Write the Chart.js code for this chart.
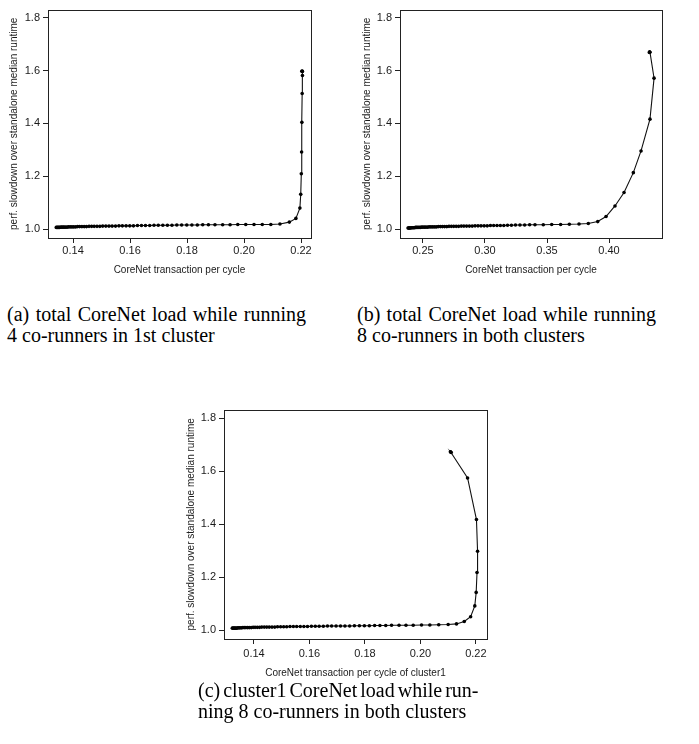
<!DOCTYPE html>
<html>
<head>
<meta charset="utf-8">
<script src="https://cdn.jsdelivr.net/npm/chart.js@4"></script>
<style>
  body { margin: 0; width: 699px; height: 744px; background: #fff; position: relative; overflow: hidden; }
  canvas { position: absolute; }
  .cap { position: absolute; font-family: "Liberation Serif", "Times New Roman", serif; font-size: 20px; line-height: 21px; color: #000; white-space: nowrap; }
  .just { text-align: justify; text-align-last: justify; }
  .tight { word-spacing: -2px; }
</style>
</head>
<body>
<canvas id="chart-a" width="320" height="282" style="left:0px;top:0px"></canvas>
<canvas id="chart-b" width="320" height="282" style="left:352px;top:0px"></canvas>
<canvas id="chart-c" width="320" height="285" style="left:176px;top:400px"></canvas>

<div class="cap" style="left:7px;top:304px;width:299px">
  <div class="just">(a) total CoreNet load while running</div>
  <div>4 co-runners in 1st cluster</div>
</div>
<div class="cap" style="left:357px;top:304px;width:299px">
  <div class="just">(b) total CoreNet load while running</div>
  <div>8 co-runners in both clusters</div>
</div>
<div class="cap" style="left:198px;top:680px;width:280px">
  <div class="tight">(c) cluster1 CoreNet load while run-</div>
  <div>ning 8 co-runners in both clusters</div>
</div>

<script>
// === Données ===
const yTicks = [1.0, 1.2, 1.4, 1.6, 1.8];
const xTicksA = [0.14, 0.16, 0.18, 0.20, 0.22];
const xTicksB = [0.25, 0.30, 0.35, 0.40];
const xTicksC = [0.14, 0.16, 0.18, 0.20, 0.22];

// (a) total, 4 co-runners in 1st cluster
const aX = [0.1341, 0.1344, 0.1347, 0.1350, 0.1353, 0.1357, 0.1361, 0.1365, 0.1369, 0.1374,
            0.1379, 0.1384, 0.1390, 0.1396, 0.1402, 0.1409, 0.1416, 0.1423, 0.1431, 0.1439,
            0.1447, 0.1456, 0.1465, 0.1474, 0.1484, 0.1494, 0.1504, 0.1515, 0.1526, 0.1537,
            0.1549, 0.1561, 0.1573, 0.1586, 0.1599, 0.1612, 0.1626, 0.1640, 0.1654, 0.1669,
            0.1684, 0.1699, 0.1715, 0.1731, 0.1747, 0.1764, 0.1781, 0.1799, 0.1817, 0.1836,
            0.1855, 0.1875, 0.1898, 0.1925, 0.1951, 0.1978, 0.2006, 0.2035, 0.2064, 0.2094,
            0.2126, 0.2159, 0.2182, 0.2196, 0.2199, 0.2201, 0.2202, 0.2203, 0.2204, 0.2205,
            0.2205, 0.2204, 0.2203];
const aY = [1.007, 1.007, 1.007, 1.007, 1.007, 1.008, 1.008, 1.008, 1.008, 1.008,
            1.008, 1.009, 1.009, 1.009, 1.009, 1.009, 1.010, 1.010, 1.010, 1.010,
            1.010, 1.011, 1.011, 1.011, 1.011, 1.011, 1.012, 1.012, 1.012, 1.012,
            1.012, 1.013, 1.013, 1.013, 1.013, 1.013, 1.014, 1.014, 1.014, 1.014,
            1.015, 1.015, 1.015, 1.015, 1.015, 1.016, 1.016, 1.016, 1.016, 1.016,
            1.017, 1.017, 1.017, 1.017, 1.017, 1.018, 1.018, 1.018, 1.018, 1.018,
            1.020, 1.027, 1.041, 1.080, 1.132, 1.210, 1.292, 1.404, 1.513, 1.581,
            1.596, 1.598, 1.597];

// (b) total, 8 co-runners in both clusters
const bX = [0.2380, 0.2384, 0.2388, 0.2393, 0.2398, 0.2404, 0.2410, 0.2417, 0.2424, 0.2432,
            0.2440, 0.2449, 0.2458, 0.2468, 0.2478, 0.2489, 0.2500, 0.2512, 0.2524, 0.2537,
            0.2550, 0.2564, 0.2578, 0.2593, 0.2608, 0.2624, 0.2640, 0.2657, 0.2674, 0.2692,
            0.2710, 0.2729, 0.2748, 0.2768, 0.2788, 0.2809, 0.2830, 0.2852, 0.2874, 0.2897,
            0.2920, 0.2944, 0.2968, 0.2993, 0.3018, 0.3044, 0.3070, 0.3097, 0.3124, 0.3152,
            0.3182, 0.3213, 0.3246, 0.3282, 0.3320, 0.3360, 0.3403, 0.3470, 0.3538, 0.3610,
            0.3680, 0.3758, 0.3833, 0.3909, 0.3976, 0.4048, 0.4121, 0.4196, 0.4258, 0.4330,
            0.4363, 0.4330, 0.4327, 0.4325];
const bY = [1.005, 1.005, 1.005, 1.005, 1.005, 1.006, 1.006, 1.006, 1.006, 1.006,
            1.007, 1.007, 1.007, 1.007, 1.007, 1.008, 1.008, 1.008, 1.008, 1.008,
            1.009, 1.009, 1.009, 1.009, 1.009, 1.010, 1.010, 1.010, 1.010, 1.010,
            1.011, 1.011, 1.011, 1.011, 1.011, 1.012, 1.012, 1.012, 1.012, 1.012,
            1.013, 1.013, 1.013, 1.013, 1.013, 1.014, 1.014, 1.014, 1.014, 1.014,
            1.015, 1.015, 1.016, 1.016, 1.016, 1.017, 1.017, 1.017, 1.018, 1.018,
            1.019, 1.020, 1.022, 1.029, 1.048, 1.088, 1.139, 1.214, 1.296, 1.416,
            1.571, 1.669, 1.671, 1.668];

// (c) cluster1, 8 co-runners in both clusters
const cX = [0.1322, 0.1325, 0.1328, 0.1331, 0.1334, 0.1338, 0.1342, 0.1346, 0.1350, 0.1355,
            0.1360, 0.1365, 0.1371, 0.1377, 0.1383, 0.1390, 0.1397, 0.1404, 0.1412, 0.1420,
            0.1428, 0.1437, 0.1446, 0.1455, 0.1465, 0.1475, 0.1485, 0.1496, 0.1507, 0.1518,
            0.1530, 0.1542, 0.1554, 0.1567, 0.1580, 0.1593, 0.1607, 0.1621, 0.1635, 0.1650,
            0.1665, 0.1680, 0.1696, 0.1712, 0.1728, 0.1745, 0.1762, 0.1780, 0.1798, 0.1816,
            0.1835, 0.1854, 0.1875, 0.1896, 0.1923, 0.1948, 0.1974, 0.2004, 0.2034, 0.2066,
            0.2100, 0.2130, 0.2158, 0.2181, 0.2196, 0.2201, 0.2204, 0.2206, 0.2202, 0.2170,
            0.2109, 0.2111, 0.2108];
const cY = [1.008, 1.008, 1.008, 1.008, 1.008, 1.008, 1.009, 1.009, 1.009, 1.009,
            1.010, 1.010, 1.010, 1.010, 1.010, 1.010, 1.011, 1.011, 1.011, 1.011,
            1.012, 1.012, 1.012, 1.012, 1.012, 1.012, 1.013, 1.013, 1.013, 1.013,
            1.014, 1.014, 1.014, 1.014, 1.014, 1.014, 1.015, 1.015, 1.015, 1.015,
            1.016, 1.016, 1.016, 1.016, 1.016, 1.016, 1.017, 1.017, 1.017, 1.017,
            1.018, 1.018, 1.018, 1.019, 1.019, 1.019, 1.019, 1.020, 1.020, 1.021,
            1.022, 1.024, 1.033, 1.051, 1.092, 1.143, 1.218, 1.298, 1.418, 1.575,
            1.673, 1.671, 1.674];

// === Cadre complet autour de la zone du graphique (comme R) ===
const boxPlugin = {
    id: 'box',
    afterDraw(chart) {
        const a = chart.chartArea;
        const ctx = chart.ctx;
        ctx.save();
        ctx.strokeStyle = '#222';
        ctx.lineWidth = 1;
        ctx.strokeRect(Math.round(a.left) + 0.5, Math.round(a.top) + 0.5,
                       Math.round(a.right - a.left), Math.round(a.bottom - a.top));
        ctx.restore();
    }
};

function makeChart(id, xs, ys, xTicks, xMin, xMax, yMin, yMax, xTitle, cfg) {
    const ctx = document.getElementById(id);
    if (!ctx) return;
    const pts = xs.map((x, i) => ({ x: x, y: ys[i] }));
    new Chart(ctx, {
        type: 'scatter',
        data: {
            datasets: [{
                data: pts,
                showLine: true,
                borderColor: '#111',
                borderWidth: 1.1,
                pointRadius: 1.8,
                pointBackgroundColor: '#000',
                pointBorderWidth: 0,
                tension: 0
            }]
        },
        options: {
            responsive: false,
            animation: false,
            devicePixelRatio: 1,
            layout: { padding: cfg.padding },
            plugins: { legend: { display: false }, tooltip: { enabled: false } },
            scales: {
                x: {
                    type: 'linear',
                    min: xMin,
                    max: xMax,
                    afterBuildTicks: s => { s.ticks = xTicks.map(v => ({ value: v })); },
                    afterFit: s => { s.height = cfg.xHeight; },
                    ticks: {
                        callback: v => v.toFixed(2),
                        color: '#1a1a1a',
                        font: { family: 'Liberation Sans', size: 11 },
                        padding: cfg.xTickPad,
                        maxRotation: 0
                    },
                    grid: { drawOnChartArea: false, drawTicks: true, tickLength: 5, color: '#222' },
                    border: { display: false },
                    title: {
                        display: true,
                        text: xTitle,
                        color: '#1a1a1a',
                        font: { family: 'Liberation Sans', size: 10 },
                        padding: { top: 0, bottom: cfg.xTitlePad }
                    }
                },
                y: {
                    type: 'linear',
                    min: yMin,
                    max: yMax,
                    afterBuildTicks: s => { s.ticks = yTicks.map(v => ({ value: v })); },
                    afterFit: s => { s.width = 48; },
                    ticks: {
                        callback: v => v.toFixed(1),
                        color: '#1a1a1a',
                        font: { family: 'Liberation Sans', size: 11 },
                        padding: 3
                    },
                    grid: { drawOnChartArea: false, drawTicks: true, tickLength: 5, color: '#222' },
                    border: { display: false },
                    title: {
                        display: true,
                        text: 'perf. slowdown over standalone median runtime',
                        color: '#1a1a1a',
                        font: { family: 'Liberation Sans', size: 10 },
                        padding: { top: cfg.yTitlePad, bottom: 0 }
                    }
                }
            }
        },
        plugins: [boxPlugin]
    });
}

document.addEventListener("DOMContentLoaded", function () {
    // === Graphique (a) ===
    makeChart('chart-a', aX, aY, xTicksA, 0.1312, 0.2235, 0.967, 1.830,
        'CoreNet transaction per cycle',
        { padding: { top: 3, right: 9, left: 0, bottom: 2 }, xHeight: 42, xTickPad: 1, xTitlePad: 4, yTitlePad: 8 });

    // === Graphique (b) ===
    makeChart('chart-b', bX, bY, xTicksB, 0.2315, 0.4427, 0.967, 1.830,
        'CoreNet transaction per cycle',
        { padding: { top: 3, right: 10, left: 0, bottom: 2 }, xHeight: 42, xTickPad: 1, xTitlePad: 4, yTitlePad: 9 });

    // === Graphique (c) ===
    makeChart('chart-c', cX, cY, xTicksC, 0.1292, 0.2240, 0.967, 1.833,
        'CoreNet transaction per cycle of cluster1',
        { padding: { top: 3, right: 9, left: 0, bottom: 4 }, xHeight: 42, xTickPad: 3, xTitlePad: 2, yTitlePad: 9 });
});
</script>
</body>
</html>
